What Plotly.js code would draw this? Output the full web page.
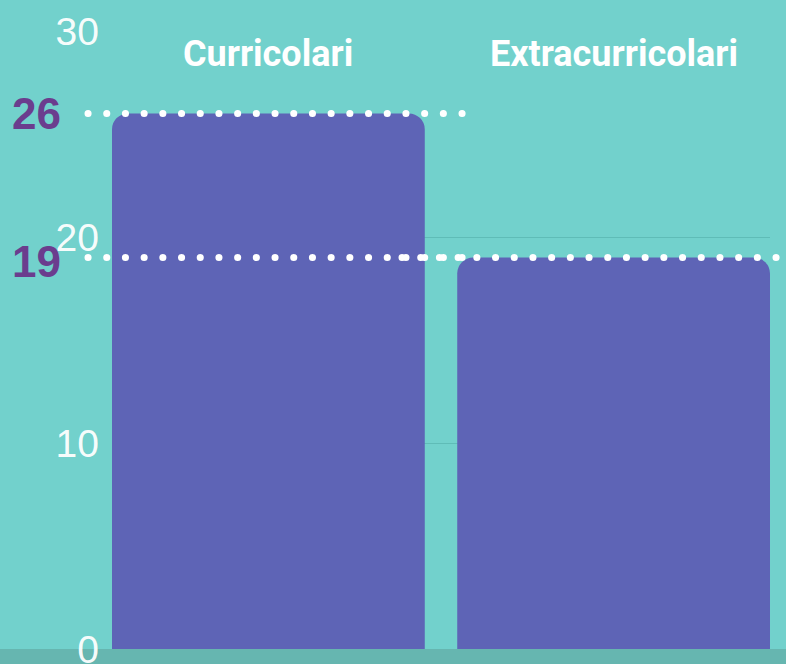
<!DOCTYPE html>
<html>
<head>
<meta charset="utf-8">
<script src="https://cdn.plot.ly/plotly-3.0.1.min.js"></script>
<style>
  html, body { margin: 0; padding: 0; background: #72D1CC; }
  #chart { width: 786px; height: 664px; }
  .shapelayer path { stroke-linecap: round !important; }
</style>
</head>
<body>
<div id="chart"></div>
<script>
// ---- data ----
const categories = ['Curricolari', 'Extracurricolari'];
const values = [26, 19];
const tickValues = [0, 10, 20, 30];
const tickLabels = ['0', '10', '20', '30'];

// ---- styling ----
const BG = '#72D1CC';
const BAR = '#5E64B6';
const GRID = '#5FBCB7';
const STRIP = '#66B6B0';
const PURPLE = '#6B3D8E';

const W = 786, H = 664;
const M = { l: 112, r: 16, t: 31, b: 15 };
const plotW = W - M.l - M.r;
const plotH = H - M.t - M.b;
const px = (p) => (p - M.l) / plotW;   // pixel -> paper x

const trace = {
  type: 'bar',
  x: categories,
  y: values,
  marker: { color: BAR, cornerradius: 16, line: { width: 0 } },
  hoverinfo: 'none'
};

// dotted reference lines: [value index, start px, end px, pixel nudge]
const lineSpans = [
  [0, 88, 465],
  [1, 88, 465],
  [1, 402, 790]
];
const shapes = lineSpans.map(([i, a, b]) => ({
  type: 'line', xref: 'paper', yref: 'y',
  x0: px(a), x1: px(b), y0: values[i], y1: values[i],
  line: { color: '#FFFFFF', width: 7, dash: '0.1px,18.6px' },
  layer: 'above'
}));
// bottom strip
shapes.push({
  type: 'rect', xref: 'paper', yref: 'paper',
  x0: px(0), x1: px(W), y0: -M.b / plotH - 0.01, y1: 0,
  fillcolor: STRIP, line: { width: 0 }, layer: 'below'
});

const annotations = [];
categories.forEach((c) => {
  annotations.push({
    x: c, xref: 'x', y: 1, yref: 'paper',
    yanchor: 'middle', yshift: -23,
    text: c, showarrow: false,
    font: { family: 'Roboto', size: 36, color: '#FFFFFF', weight: 700 }
  });
});
const valueShift = [0, -4];
values.forEach((v, i) => {
  annotations.push({
    x: px(36), xref: 'paper', xanchor: 'center',
    y: v, yref: 'y', yanchor: 'middle', yshift: valueShift[i],
    text: String(v), showarrow: false,
    font: { family: 'Liberation Sans', size: 44, color: PURPLE, weight: 700 }
  });
});

const layout = {
  width: W, height: H,
  margin: M,
  paper_bgcolor: BG,
  plot_bgcolor: BG,
  showlegend: false,
  bargap: 0.094,
  xaxis: {
    type: 'category',
    range: [-0.453, 1.453],
    showticklabels: false,
    showgrid: false,
    zeroline: false,
    showline: false,
    fixedrange: true
  },
  yaxis: {
    range: [0, 30],
    tickmode: 'array',
    tickvals: tickValues,
    ticktext: tickLabels,
    showgrid: true,
    gridcolor: GRID,
    gridwidth: 1,
    zeroline: false,
    showline: false,
    ticks: '',
    ticklabelstandoff: 12,
    ticklabeloverflow: 'allow',
    tickfont: { family: 'Liberation Sans', size: 39, color: 'rgba(255,255,255,0.96)' },
    fixedrange: true
  },
  shapes: shapes,
  annotations: annotations
};

Plotly.newPlot('chart', [trace], layout, { displayModeBar: false, staticPlot: true });
</script>
</body>
</html>
